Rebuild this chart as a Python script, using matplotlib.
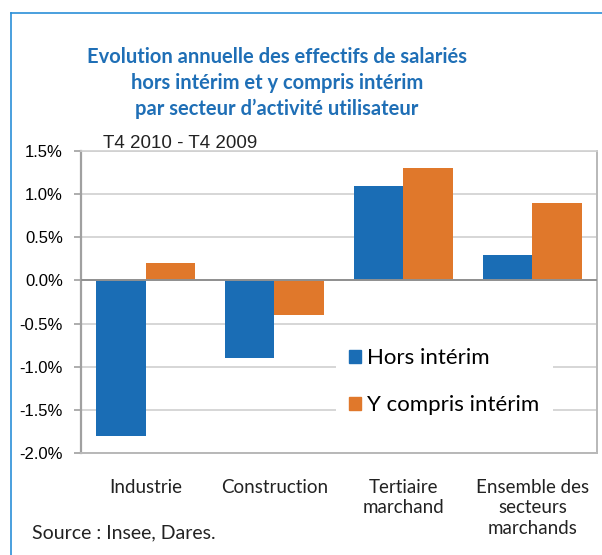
import numpy as np
import matplotlib.pyplot as plt
from matplotlib.lines import Line2D
from matplotlib.patches import Patch

categories = ['Industrie', 'Construction', 'Tertiaire\nmarchand', 'Ensemble des\nsecteurs\nmarchands']
hors_interim = [-1.8, -0.9, 1.1, 0.3]
y_compris_interim = [0.2, -0.4, 1.3, 0.9]
yticks = [1.5, 1.0, 0.5, 0.0, -0.5, -1.0, -1.5, -2.0]

BLUE = '#1a6db5'
ORANGE = '#e0782b'
TITLE_BLUE = '#1f6fb6'
FRAME_BLUE = '#2a8fd8'
GRID = '#d0d0d0'
SPINE = '#a0a0a0'

fig = plt.figure(figsize=(6.02, 5.55), dpi=100)
ax = fig.add_axes([81 / 602, 1 - 453 / 555, (597 - 81) / 602, (453 - 151) / 555])

x = np.arange(len(categories))
w = 0.38
ax.bar(x - w / 2, hors_interim, w, color=BLUE, zorder=3)
ax.bar(x + w / 2, y_compris_interim, w, color=ORANGE, zorder=3)

ax.set_xlim(-0.5, len(categories) - 0.5)
ax.set_ylim(-2.0, 1.5)
ax.set_yticks(yticks)
ax.set_yticklabels([f'{v:.1f}%' for v in yticks], fontsize=12, family='Liberation Sans')
ax.yaxis.grid(True, color=GRID, linewidth=1.2, zorder=0)
ax.axhline(0, color='#909090', linewidth=1.4, zorder=4)
ax.tick_params(axis='y', length=5, width=1.2, color=SPINE, pad=8)
ax.tick_params(axis='x', length=0, pad=19)
ax.set_xticks(x)
ax.set_xticklabels(categories, fontsize=13.5, family='Lato', color='#222222', va='top', linespacing=1.22)
for s in ['top']:
    ax.spines[s].set_color(GRID)
    ax.spines[s].set_linewidth(1.2)
for s in ['right', 'bottom']:
    ax.spines[s].set_color('#b8b8b8')
    ax.spines[s].set_linewidth(1.4)
ax.spines['left'].set_color(SPINE)
ax.spines['left'].set_linewidth(1.6)

handles = [Patch(color=BLUE), Patch(color=ORANGE)]
leg = ax.legend(handles, ['Hors intérim', 'Y compris intérim'], loc='upper left',
                bbox_to_anchor=(325 / 602, 1 - 324 / 555), bbox_transform=fig.transFigure,
                frameon=True, fancybox=False, edgecolor='none', facecolor='white', framealpha=1,
                prop={'family': 'Lato', 'size': 16}, handlelength=0.5, handleheight=0.5,
                handletextpad=0.3, labelspacing=1.2, borderpad=0.6)
leg.set_zorder(5)

fig.text(277 / 602, 1 - 83 / 555,
         'Evolution annuelle des effectifs de salariés\nhors intérim et y compris intérim\npar secteur d\u2019activité utilisateur',
         ha='center', va='center', fontsize=14.5, color=TITLE_BLUE, family='Lato',
         fontweight='bold', linespacing=1.35)
fig.text(103 / 602, 1 - 143 / 555, 'T4 2010 - T4 2009', ha='left', va='center',
         fontsize=13.5, family='Liberation Sans', color='#222222')
fig.text(32 / 602, 1 - 533 / 555, 'Source : Insee, Dares.', ha='left', va='center',
         fontsize=14, family='Lato', color='#222222')

# blue frame on left and top
fig.add_artist(Line2D([11 / 602, 11 / 602], [0, 1 - 13 / 555], transform=fig.transFigure,
                      color=FRAME_BLUE, linewidth=1.2))
fig.add_artist(Line2D([11 / 602, 1], [1 - 13 / 555, 1 - 13 / 555], transform=fig.transFigure,
                      color=FRAME_BLUE, linewidth=1.2))

fig.savefig('out.png', dpi=100)
